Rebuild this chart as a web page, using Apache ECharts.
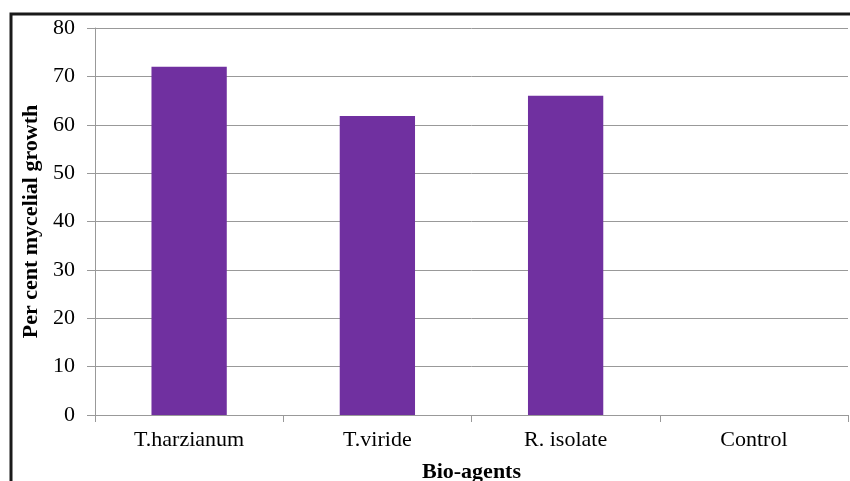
<!DOCTYPE html>
<html>
<head>
<meta charset="utf-8">
<style>
  html, body { margin: 0; padding: 0; background: #fff; overflow: hidden; }
  #chart { width: 850px; height: 481px; }
</style>
<script src="https://cdn.jsdelivr.net/npm/echarts@6/dist/echarts.min.js"></script>
</head>
<body>
<div id="chart"></div>
<script>
// Bio-agents and their per cent mycelial growth
const categories = ['T.harzianum', 'T.viride', 'R. isolate', 'Control'];
const growthValues = [72, 61.8, 66, 0];
const yTicks = [0, 10, 20, 30, 40, 50, 60, 70, 80];

const serif = '"Liberation Serif", "DejaVu Serif", serif';
const chart = echarts.init(document.getElementById('chart'), null, { renderer: 'canvas' });

chart.setOption({
  animation: false,
  backgroundColor: '#ffffff',
  graphic: [{
    type: 'rect',
    shape: { x: 11, y: 14, width: 860, height: 500 },
    style: { fill: 'none', stroke: '#1a1a1a', lineWidth: 3 },
    silent: true,
    z: 100
  }],
  grid: {
    left: 95, right: 2, top: 28, bottom: 66,
    containLabel: false,
    outerBoundsMode: 'none'
  },
  xAxis: {
    type: 'category',
    data: categories,
    name: 'Bio-agents',
    nameLocation: 'middle',
    nameGap: 57,
    nameTextStyle: { fontFamily: serif, fontSize: 22, fontWeight: 'bold', color: '#000', verticalAlign: 'middle' },
    axisLine: { lineStyle: { color: '#999', width: 1 } },
    axisTick: { show: true, length: 7, alignWithLabel: false, lineStyle: { color: '#999' } },
    axisLabel: { fontFamily: serif, fontSize: 22, color: '#000', margin: 14 },
    splitLine: { show: false }
  },
  yAxis: {
    type: 'value',
    min: yTicks[0],
    max: yTicks[yTicks.length - 1],
    interval: 10,
    name: 'Per cent mycelial growth',
    nameLocation: 'middle',
    nameRotate: 90,
    nameGap: 55,
    nameTextStyle: { fontFamily: serif, fontSize: 22, fontWeight: 'bold', color: '#000', verticalAlign: 'middle' },
    axisLine: { show: true, lineStyle: { color: '#999', width: 1 } },
    axisTick: { show: true, length: 8, inside: false, lineStyle: { color: '#999' } },
    axisLabel: { fontFamily: serif, fontSize: 22, color: '#000', margin: 20 },
    splitLine: { show: true, lineStyle: { color: '#999', width: 1 } }
  },
  series: [{
    type: 'bar',
    data: growthValues,
    barWidth: '40%',
    itemStyle: { color: '#7030A0' }
  }]
});
</script>
</body>
</html>
